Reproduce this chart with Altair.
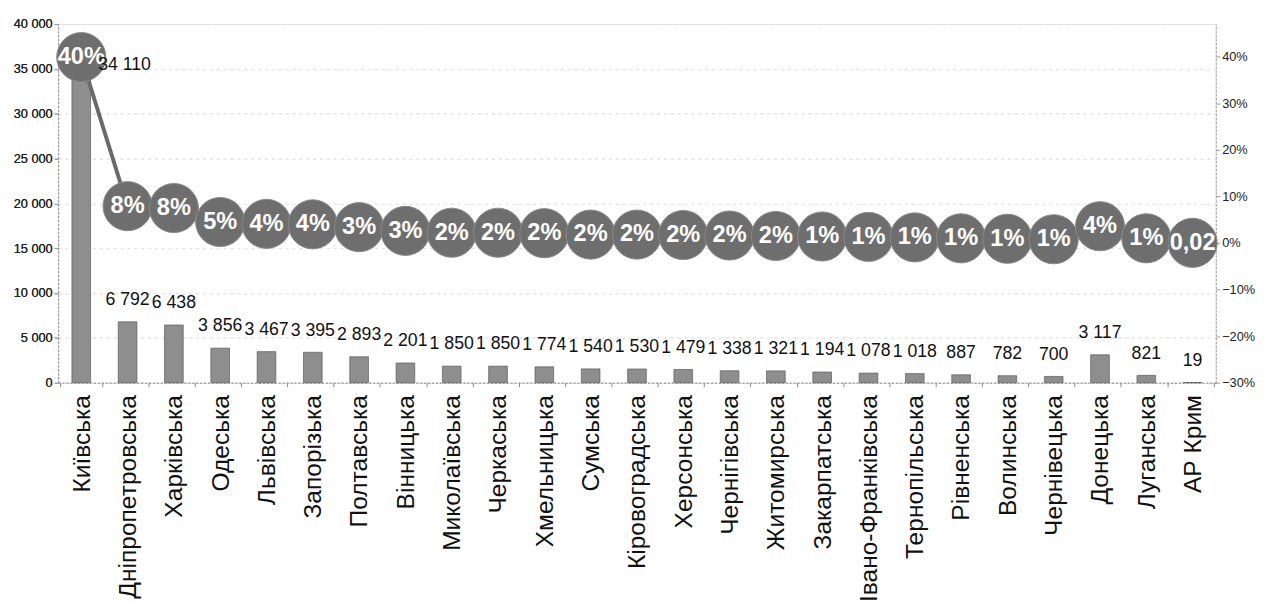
import altair as alt
import pandas as pd

regions = ["Київська", "Дніпропетровська", "Харківська", "Одеська", "Львівська",
           "Запорізька", "Полтавська", "Вінницька", "Миколаївська", "Черкаська",
           "Хмельницька", "Сумська", "Кіровоградська", "Херсонська", "Чернігівська",
           "Житомирська", "Закарпатська", "Івано-Франківська", "Тернопільська",
           "Рівненська", "Волинська", "Чернівецька", "Донецька", "Луганська", "АР Крим"]
bar_values = [34110, 6792, 6438, 3856, 3467, 3395, 2893, 2201, 1850, 1850, 1774,
              1540, 1530, 1479, 1338, 1321, 1194, 1078, 1018, 887, 782, 700, 3117, 821, 19]
share_values = [0.399, 0.079, 0.075, 0.045, 0.041, 0.040, 0.034, 0.026, 0.022, 0.022,
                0.021, 0.018, 0.018, 0.017, 0.016, 0.015, 0.014, 0.013, 0.012, 0.010,
                0.009, 0.008, 0.036, 0.010, 0.0002]
share_labels = ["40%", "8%", "8%", "5%", "4%", "4%", "3%", "3%", "2%", "2%", "2%", "2%",
                "2%", "2%", "2%", "2%", "1%", "1%", "1%", "1%", "1%", "1%", "4%", "1%", "0,02"]
left_ticks = [0, 5000, 10000, 15000, 20000, 25000, 30000, 35000, 40000]
right_ticks = [-0.3, -0.2, -0.1, 0.0, 0.1, 0.2, 0.3, 0.4]

df = pd.DataFrame({"region": regions, "value": bar_values,
                   "share": share_values, "share_label": share_labels})

x_enc = alt.X("region:N", sort=None, title=None,
              axis=alt.Axis(labelAngle=270, labelFontSize=25, labelColor="#111",
                            labelLimit=500, tickBand="extent", domainColor="#888",
                            domainDash=[2, 2], tickColor="#888", tickSize=4,
                            labelPadding=8))

ys = alt.Scale(domain=[0, 40000], nice=False)
yr = alt.Scale(domain=[-0.3, 0.47], nice=False)

left_axis = alt.Axis(values=left_ticks, labelFontSize=13, labelColor="#222",
                     grid=True, gridColor="#e2e2e2", gridDash=[3, 4],
                     domainColor="#999", domainDash=[2, 2], tickColor="#999",
                     tickSize=4)
right_axis = alt.Axis(orient="right", values=right_ticks, format=".0%",
                      labelFontSize=13, labelColor="#222", grid=False,
                      domainColor="#999", domainDash=[2, 2], tickColor="#999",
                      tickSize=4)

base = alt.Chart(df).encode(x=x_enc)

bars = base.mark_bar(size=19, color="#8e8e8e", stroke="#5a5a5a", strokeWidth=0.7).encode(
    y=alt.Y("value:Q", scale=ys, title=None, axis=left_axis)
)
bar_text = base.transform_filter(alt.datum.region != "Київська").mark_text(
    dy=-22, fontSize=18, color="#111").encode(
    y=alt.Y("value:Q", scale=ys, title=None, axis=left_axis),
    text=alt.Text("value:Q", format=",d"))
kyiv_text = base.transform_filter(alt.datum.region == "Київська").mark_text(
    dx=44, dy=-12, fontSize=18, color="#111").encode(
    y=alt.Y("value:Q", scale=ys, title=None, axis=left_axis),
    text=alt.Text("value:Q", format=",d"))

line = base.mark_line(color="#6a6a6a", strokeWidth=4).encode(
    y=alt.Y("share:Q", scale=yr, title=None, axis=right_axis))
circles = base.mark_circle(size=2500, color="#6e6e6e", opacity=1,
                           stroke="#8a8a8a", strokeWidth=1).encode(
    y=alt.Y("share:Q", scale=yr, title=None, axis=right_axis))
circle_text = base.mark_text(color="white", fontSize=24, fontWeight="bold").encode(
    y=alt.Y("share:Q", scale=yr, title=None, axis=right_axis), text="share_label:N")

left = alt.layer(bars, bar_text)
right = alt.layer(line, circles, circle_text)

chart = alt.layer(left, right, kyiv_text).resolve_scale(y="independent").properties(
    width=1178, height=365
).configure_view(stroke=None).configure(font="Liberation Sans")

chart.save("out.html", embed_options={"renderer": "svg", "actions": False,
                                      "formatLocale": {"decimal": ",", "thousands": " ",
                                                       "grouping": [3], "currency": ["", ""]}})
